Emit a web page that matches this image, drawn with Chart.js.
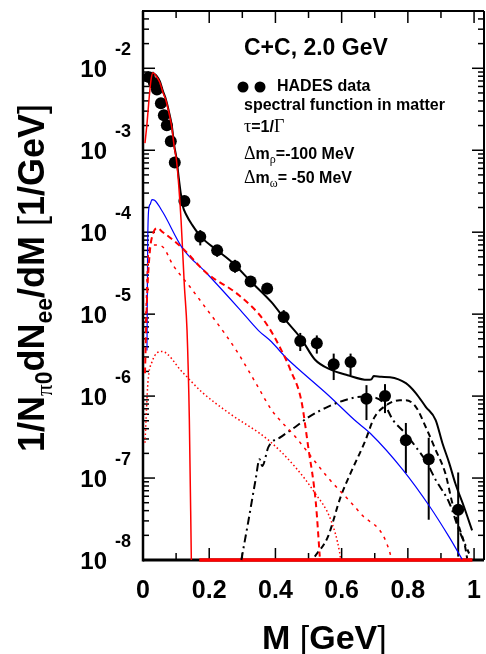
<!DOCTYPE html>
<html>
<head>
<meta charset="utf-8">
<script src="https://cdn.jsdelivr.net/npm/chart.js@4.4.1/dist/chart.umd.min.js"></script>
<style>
    html, body { margin: 0; padding: 0; background: #fff; overflow: hidden; width: 486px; height: 654px; }
    canvas { display: block; }
</style>
</head>
<body>
<canvas id="c" width="490" height="654"></canvas>
<script>
// axis ranges and tick labels
const xRange = [0, 1.03];
const yRange = [1e-8, 0.05];
const xTickLabels = [0, 0.2, 0.4, 0.6, 0.8, 1];
const yDecades = [-8, -7, -6, -5, -4, -3, -2];

// HADES data points (with error bar ends)
const hadesM  = [0.018, 0.033, 0.042, 0.054, 0.063, 0.072, 0.084, 0.096, 0.125, 0.173, 0.224, 0.278, 0.325, 0.375, 0.425, 0.475, 0.525, 0.576, 0.627, 0.675, 0.731, 0.794, 0.863, 0.952];
const hadesY  = [7.8e-3, 6.6e-3, 5.5e-3, 3.74e-3, 2.67e-3, 2.02e-3, 1.29e-3, 7.1e-4, 2.4e-4, 8.8e-5, 6.0e-5, 3.85e-5, 2.5e-5, 2.05e-5, 9.2e-6, 4.7e-6, 4.4e-6, 2.45e-6, 2.6e-6, 9.3e-7, 1.0e-6, 2.9e-7, 1.7e-7, 4.1e-8];
const hadesLo = [7.8e-3, 6.6e-3, 5.5e-3, 3.74e-3, 2.67e-3, 2.02e-3, 1.29e-3, 7.1e-4, 2.4e-4, 6.9e-5, 5.0e-5, 3.2e-5, 2.2e-5, 1.75e-5, 7.8e-6, 3.55e-6, 3.3e-6, 1.57e-6, 1.8e-6, 5.1e-7, 6.2e-7, 1.15e-7, 3.1e-8, 1.1e-8];
const hadesHi = [7.8e-3, 6.6e-3, 5.5e-3, 3.74e-3, 2.67e-3, 2.02e-3, 1.29e-3, 7.1e-4, 2.4e-4, 1.06e-4, 6.9e-5, 4.6e-5, 2.8e-5, 2.4e-5, 1.12e-5, 5.9e-6, 5.5e-6, 3.3e-6, 3.3e-6, 1.36e-6, 1.4e-6, 4.7e-7, 3.1e-7, 1.17e-7];

// total (black solid)
const totalM = [0.028, 0.040, 0.051, 0.060, 0.069, 0.078, 0.087, 0.095, 0.101, 0.108, 0.113, 0.120, 0.131, 0.149, 0.176, 0.224, 0.269, 0.328, 0.388, 0.430, 0.478, 0.519, 0.567, 0.618, 0.678, 0.690, 0.697, 0.720, 0.746, 0.794, 0.824, 0.854, 0.884, 0.904, 0.925, 0.943, 0.970, 0.994];
const totalY = [8.9e-3, 8.2e-3, 6.9e-3, 5.3e-3, 4.2e-3, 3.0e-3, 2.0e-3, 1.1e-3, 8.0e-4, 4.6e-4, 3.2e-4, 2.1e-4, 1.62e-4, 1.22e-4, 8.7e-5, 6.0e-5, 4.3e-5, 2.45e-5, 1.4e-5, 8.5e-6, 5.0e-6, 2.8e-6, 2.1e-6, 1.8e-6, 1.58e-6, 1.6e-6, 1.76e-6, 1.72e-6, 1.7e-6, 1.44e-6, 1.09e-6, 7.4e-7, 5.1e-7, 2.7e-7, 1.52e-7, 8.7e-8, 4.4e-8, 2.3e-8];

// pi0 Dalitz (red solid)
const pi0M = [0.006, 0.012, 0.018, 0.024, 0.030, 0.040, 0.051, 0.060, 0.069, 0.078, 0.087, 0.095, 0.101, 0.108, 0.115, 0.125, 0.133, 0.140, 0.146];
const pi0Y = [1.22e-3, 2.1e-3, 4.1e-3, 7.1e-3, 8.8e-3, 8.0e-3, 6.7e-3, 5.1e-3, 4.1e-3, 2.9e-3, 1.9e-3, 1.05e-3, 7.6e-4, 3.7e-4, 1.4e-4, 2.2e-5, 6.3e-6, 5.1e-7, 1.0e-8];

// eta Dalitz (blue solid)
const etaM = [0.012, 0.014, 0.017, 0.022, 0.027, 0.035, 0.060, 0.119, 0.191, 0.290, 0.349, 0.388, 0.430, 0.466, 0.549, 0.576, 0.639, 0.687, 0.785, 0.866, 0.925, 0.964];
const etaY = [3.6e-6, 6.3e-5, 1.86e-4, 2.2e-4, 2.5e-4, 2.45e-4, 1.75e-4, 6.4e-5, 3.2e-5, 1.17e-5, 6.3e-6, 4.6e-6, 3.0e-6, 2.2e-6, 1.12e-6, 8.9e-7, 5.1e-7, 3.5e-7, 1.26e-7, 4.5e-8, 1.9e-8, 1.02e-8];

// red dashed
const redDashM = [0.006, 0.012, 0.021, 0.030, 0.042, 0.060, 0.119, 0.191, 0.290, 0.370, 0.430, 0.445, 0.478, 0.499, 0.522, 0.534];
const redDashY = [1.9e-6, 1.5e-5, 6.0e-5, 9.5e-5, 1.12e-4, 1.0e-4, 6.4e-5, 3.2e-5, 1.7e-5, 7.9e-6, 2.9e-6, 2.1e-6, 8.9e-7, 2.4e-7, 5.0e-8, 1.1e-8];

// red short dashes
const redDotDashM = [0.008, 0.014, 0.020, 0.035, 0.060, 0.090, 0.140, 0.191, 0.251, 0.290, 0.349, 0.388, 0.460, 0.558, 0.657, 0.746, 0.750];
const redDotDashY = [8e-6, 4e-5, 6.5e-5, 7.0e-5, 6.6e-5, 4.0e-5, 2.2e-5, 1.17e-5, 5.5e-6, 3.2e-6, 1.26e-6, 6.8e-7, 3.2e-7, 1.02e-7, 3.7e-8, 1.22e-8, 1.0e-8];

// red dotted
const redDotM = [0.006, 0.015, 0.027, 0.057, 0.119, 0.179, 0.260, 0.379, 0.460, 0.519, 0.567, 0.594, 0.597];
const redDotY = [2.7e-7, 1.48e-6, 2.6e-6, 3.5e-6, 1.96e-6, 1.11e-6, 6.2e-7, 2.9e-7, 1.36e-7, 6.6e-8, 3.1e-8, 1.23e-8, 1.0e-8];

// red contributions sitting on the axis floor
const redFloorM = [0.17, 0.995];
const redFloorY = [1e-8, 1e-8];

// black dash-dot
const blkDotDashM = [0.297, 0.319, 0.340, 0.352, 0.360, 0.379, 0.418, 0.460, 0.499, 0.558, 0.609, 0.657, 0.700, 0.728, 0.755, 0.790, 0.824, 0.855, 0.884, 0.925, 0.955, 0.985];
const blkDotDashY = [1.0e-8, 3.1e-8, 9.5e-8, 1.7e-7, 1.4e-7, 2.4e-7, 3.2e-7, 4.2e-7, 5.5e-7, 7.4e-7, 8.9e-7, 9.8e-7, 9.6e-7, 8.1e-7, 5.1e-7, 3.6e-7, 2.4e-7, 1.6e-7, 9.5e-8, 5.0e-8, 2.3e-8, 1.2e-8];

// black dashed
const blkDashM = [0.519, 0.558, 0.597, 0.627, 0.669, 0.699, 0.728, 0.776, 0.794, 0.824, 0.854, 0.884, 0.913, 0.934, 0.955, 0.973, 0.979];
const blkDashY = [1.1e-8, 1.9e-8, 5.9e-8, 1.15e-7, 2.7e-7, 5.5e-7, 7.4e-7, 8.9e-7, 8.9e-7, 7.4e-7, 4.2e-7, 2.2e-7, 1.15e-7, 5.0e-8, 2.5e-8, 1.45e-8, 1.05e-8];

const pts = (m, v) => m.map((x, i) => ({ x: x, y: v[i] }));

const B = s => `bold ${s}px "Liberation Sans", Arial, sans-serif`;
const R = s => `${s}px "Liberation Sans", Arial, sans-serif`;
const S = s => `${s}px "Liberation Serif", "DejaVu Serif", serif`;

function rich(ctx, x, y, parts) {
    let cx = x;
    parts.forEach(p => {
        ctx.font = p.f;
        ctx.fillText(p.t, cx, y + (p.dy || 0));
        cx += ctx.measureText(p.t).width;
    });
    return cx - x;
}

function seg(ctx, x1, y1, x2, y2) {
    ctx.beginPath();
    ctx.moveTo(x1, y1);
    ctx.lineTo(x2, y2);
    ctx.stroke();
}

// frame, ticks, error bars and all text
const overlay = {
    id: 'overlay',
    beforeDatasetsDraw(chart) {
        const { ctx, chartArea: a, scales: { x, y } } = chart;
        ctx.save();
        ctx.strokeStyle = '#000';
        ctx.fillStyle = '#000';

        // frame
        ctx.lineWidth = 2;
        seg(ctx, a.left - 1, a.top, a.right, a.top);
        seg(ctx, a.right, a.top, a.right, a.bottom);
        ctx.lineWidth = 2.5;
        seg(ctx, a.left, a.top, a.left, a.bottom + 1.5);
        ctx.lineWidth = 3;
        seg(ctx, a.left, a.bottom, a.right, a.bottom);

        // x ticks (bottom and top)
        ctx.lineWidth = 1.5;
        for (let k = 1; k <= 10; k++) {
            const px = x.getPixelForValue(k / 10);
            const len = k % 2 === 0 ? 12 : 7;
            seg(ctx, px, a.bottom, px, a.bottom - len);
            seg(ctx, px, a.top, px, a.top + len);
        }

        // y ticks (left and right)
        yDecades.concat([-1]).forEach(d => {
            for (let k = 1; k <= 9; k++) {
                const v = k * Math.pow(10, d);
                if (v < yRange[0] || v > yRange[1]) continue;
                const py = y.getPixelForValue(v);
                const len = k === 1 ? 12 : 6;
                seg(ctx, a.left, py, a.left + len, py);
                seg(ctx, a.right, py, a.right - len, py);
            }
        });

        // error bars
        ctx.lineWidth = 2;
        hadesM.forEach((m, i) => {
            if (hadesHi[i] <= hadesLo[i]) return;
            const px = x.getPixelForValue(m);
            seg(ctx, px, y.getPixelForValue(hadesLo[i]), px, y.getPixelForValue(hadesHi[i]));
        });
        ctx.restore();
    },
    afterDraw(chart) {
        const { ctx, chartArea: a, scales: { x, y } } = chart;
        ctx.save();
        ctx.fillStyle = '#000';

        // x tick labels
        ctx.font = B(25);
        ctx.textAlign = 'center';
        ctx.textBaseline = 'middle';
        xTickLabels.forEach(v => {
            ctx.fillText(String(v), x.getPixelForValue(v), a.bottom + 31);
        });

        // y tick labels 10^d
        yDecades.forEach(d => {
            const py = y.getPixelForValue(Math.pow(10, d));
            ctx.font = B(24);
            ctx.textAlign = 'right';
            ctx.textBaseline = 'middle';
            ctx.fillText('10', 107, py + 2);
            ctx.font = B(18);
            ctx.textAlign = 'left';
            ctx.textBaseline = 'alphabetic';
            ctx.fillText(String(d), 115, py - 13);
        });

        ctx.textAlign = 'left';
        ctx.textBaseline = 'alphabetic';

        // x title
        rich(ctx, 262, 649, [
            { t: 'M ', f: B(34) }, { t: '[', f: R(34) }, { t: 'GeV', f: B(34) }, { t: ']', f: R(34) }
        ]);

        // y title
        ctx.save();
        ctx.translate(44, 452);
        ctx.rotate(-Math.PI / 2);
        rich(ctx, 0, 0, [
            { t: '1/N', f: B(36) },
            { t: 'π', f: S(23), dy: 8 }, { t: '0', f: B(23), dy: 8 },
            { t: 'dN', f: B(36) },
            { t: 'ee', f: B(23), dy: 8 },
            { t: '/dM ', f: B(36) },
            { t: '[', f: R(36) }, { t: '1/GeV', f: B(36) }, { t: ']', f: R(36) }
        ]);
        ctx.restore();

        // legend text
        ctx.font = B(23);
        ctx.fillText('C+C, 2.0 GeV', 244, 55);
        [243, 260].forEach(cx => {
            ctx.beginPath();
            ctx.arc(cx, 87, 5.5, 0, Math.PI * 2);
            ctx.fill();
        });
        ctx.font = B(16);
        ctx.fillText('HADES data', 277, 91);
        ctx.fillText('spectral function in matter', 244, 110);
        rich(ctx, 244, 132, [
            { t: 'τ', f: S(18) }, { t: '=1/', f: B(16) }, { t: 'Γ', f: S(18) }
        ]);
        rich(ctx, 244, 159, [
            { t: 'Δ', f: S(18) }, { t: 'm', f: B(16) }, { t: 'ρ', f: S(12), dy: 4 }, { t: '=-100 MeV', f: B(16) }
        ]);
        rich(ctx, 244, 183, [
            { t: 'Δ', f: S(18) }, { t: 'm', f: B(16) }, { t: 'ω', f: S(12), dy: 4 }, { t: '= -50 MeV', f: B(16) }
        ]);
        ctx.restore();
    }
};

const curve = (m, v, color, width, dash) => ({
    type: 'line',
    data: pts(m, v),
    borderColor: color,
    borderWidth: width,
    borderDash: dash || [],
    pointRadius: 0,
    cubicInterpolationMode: 'monotone',
    fill: false,
    clip: 3
});

new Chart(document.getElementById('c'), {
    type: 'line',
    data: {
        datasets: [
            curve(redDotM, redDotY, '#ff0000', 1.5, [1.5, 2.5]),
            curve(redDotDashM, redDotDashY, '#ff0000', 1.5, [3, 5]),
            curve(redDashM, redDashY, '#ff0000', 2, [6, 4]),
            curve(blkDotDashM, blkDotDashY, '#000000', 2, [8, 4, 2, 4]),
            curve(blkDashM, blkDashY, '#000000', 2, [6, 4]),
            curve(etaM, etaY, '#0000ff', 1.2),
            curve(pi0M, pi0Y, '#ff0000', 1.5),
            curve(redFloorM, redFloorY, '#ff0000', 3.5),
            curve(totalM, totalY, '#000000', 2),
            {
                type: 'line',
                data: pts(hadesM, hadesY),
                showLine: false,
                pointRadius: 6,
                pointBackgroundColor: '#000',
                pointBorderWidth: 0,
                clip: 8
            }
        ]
    },
    options: {
        responsive: false,
        animation: false,
        devicePixelRatio: 1,
        layout: { padding: { left: 143, top: 11, right: 2, bottom: 94 } },
        plugins: { legend: { display: false }, tooltip: { enabled: false } },
        scales: {
            x: { type: 'linear', min: xRange[0], max: xRange[1], display: false },
            y: { type: 'logarithmic', min: yRange[0], max: yRange[1], display: false }
        }
    },
    plugins: [overlay]
});
</script>
</body>
</html>
